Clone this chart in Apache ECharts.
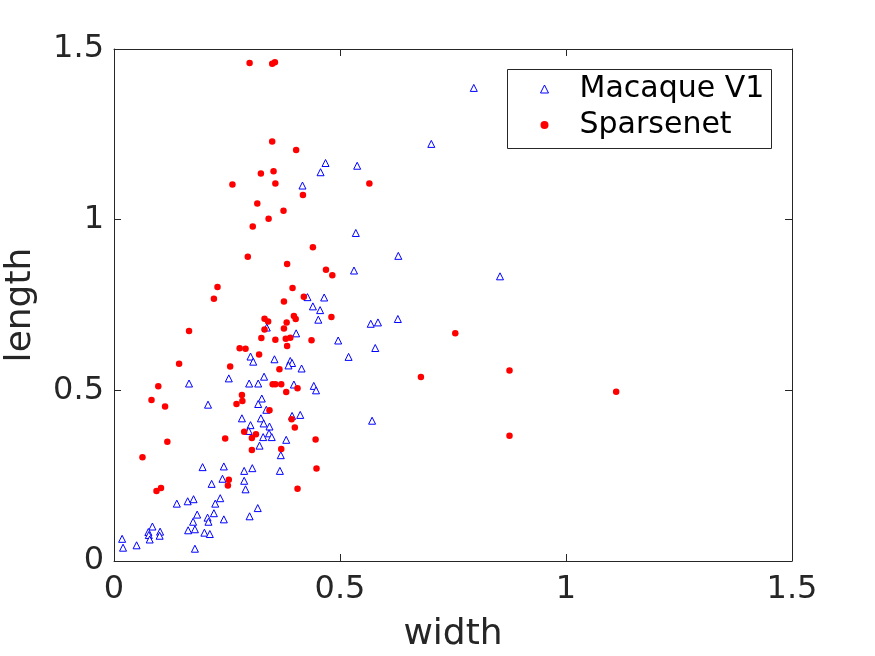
<!DOCTYPE html>
<html>
<head>
<meta charset="utf-8">
<script src="https://cdn.jsdelivr.net/npm/echarts@6/dist/echarts.min.js"></script>
<style>
  html, body { margin: 0; padding: 0; background: #fff; }
  #chart { width: 875px; height: 656px; }
</style>
</head>
<body>
<div id="chart"></div>
<script>
// [width, length] pairs
const macaqueV1 = [
  [0.468,1.166],[0.457,1.139],[0.538,1.158],[0.417,1.100],[0.796,1.386],[0.702,1.222],
  [0.535,0.961],[0.531,0.851],[0.428,0.773],[0.465,0.772],[0.440,0.746],[0.456,0.735],
  [0.452,0.707],[0.338,0.684],[0.403,0.667],[0.496,0.646],[0.519,0.598],[0.302,0.599],
  [0.308,0.584],[0.355,0.591],[0.390,0.586],[0.394,0.580],[0.386,0.573],[0.415,0.564],
  [0.332,0.540],[0.254,0.535],[0.166,0.520],[0.299,0.520],[0.319,0.520],[0.398,0.517],
  [0.442,0.513],[0.629,0.894],[0.854,0.834],[0.628,0.709],[0.568,0.695],[0.584,0.699],
  [0.578,0.624],[0.571,0.411],[0.447,0.500],[0.208,0.458],[0.327,0.476],[0.319,0.460],
  [0.337,0.443],[0.283,0.418],[0.325,0.418],[0.302,0.398],[0.331,0.403],[0.344,0.394],
  [0.394,0.425],[0.412,0.428],[0.298,0.381],[0.343,0.374],[0.330,0.363],[0.349,0.363],
  [0.381,0.355],[0.322,0.338],[0.369,0.310],[0.196,0.275],[0.243,0.277],[0.288,0.264],
  [0.306,0.272],[0.367,0.264],[0.240,0.241],[0.288,0.235],[0.216,0.226],[0.291,0.210],
  [0.139,0.168],[0.163,0.175],[0.176,0.181],[0.235,0.184],[0.224,0.168],[0.318,0.155],
  [0.184,0.136],[0.221,0.140],[0.207,0.127],[0.209,0.115],[0.175,0.115],[0.300,0.131],
  [0.243,0.122],[0.164,0.090],[0.179,0.093],[0.200,0.083],[0.212,0.079],[0.085,0.101],
  [0.076,0.085],[0.077,0.076],[0.079,0.063],[0.102,0.086],[0.101,0.074],[0.018,0.065],
  [0.020,0.039],[0.050,0.046],[0.179,0.036]
];

const sparsenet = [
  [0.300,1.459],[0.350,1.457],[0.356,1.461],[0.350,1.229],[0.403,1.204],[0.325,1.135],
  [0.353,1.142],[0.262,1.103],[0.357,1.106],[0.418,1.072],[0.317,1.047],[0.375,1.026],
  [0.342,1.003],[0.307,0.980],[0.440,0.919],[0.296,0.891],[0.383,0.870],[0.469,0.853],
  [0.483,0.837],[0.395,0.800],[0.229,0.803],[0.221,0.768],[0.376,0.760],[0.420,0.774],
  [0.398,0.718],[0.402,0.709],[0.481,0.715],[0.333,0.710],[0.341,0.702],[0.382,0.699],
  [0.166,0.674],[0.333,0.678],[0.376,0.681],[0.326,0.653],[0.357,0.648],[0.380,0.651],
  [0.390,0.654],[0.437,0.647],[0.383,0.630],[0.278,0.623],[0.291,0.622],[0.321,0.605],
  [0.144,0.578],[0.257,0.570],[0.366,0.562],[0.098,0.512],[0.351,0.518],[0.357,0.518],
  [0.370,0.518],[0.406,0.506],[0.381,0.495],[0.083,0.472],[0.113,0.453],[0.283,0.486],
  [0.284,0.469],[0.271,0.460],[0.344,0.442],[0.393,0.415],[0.400,0.391],[0.288,0.379],
  [0.314,0.371],[0.305,0.360],[0.246,0.359],[0.446,0.356],[0.118,0.349],[0.305,0.325],
  [0.370,0.328],[0.063,0.304],[0.448,0.271],[0.254,0.238],[0.252,0.221],[0.094,0.205],
  [0.104,0.214],[0.406,0.212],[0.755,0.667],[0.679,0.539],[0.875,0.558],[0.565,1.106],
  [0.875,0.367],[1.111,0.496]
];

const seriesNames = ['Macaque V1', 'Sparsenet'];
const axisMin = 0;
const axisMax = 1.5;
const tickStep = 0.5;

const font = 'DejaVu Sans';
const ink = '#262626';

function frameAxis(pos, showLabel){
    return {
        type: 'value',
        position: pos,
        min: axisMin,
        max: axisMax,
        interval: tickStep,
        axisLine: {show: true, onZero: false, lineStyle: {color: ink, width: 1}},
        axisTick: {show: true, inside: true, length: 7, lineStyle: {color: ink}},
        axisLabel: {show: showLabel, fontFamily: font, fontSize: 32, color: ink},
        splitLine: {show: false}
    };
}

const chart = echarts.init(document.getElementById('chart'));

const xBottom = frameAxis('bottom', true);
xBottom.axisLabel.margin = 13;
xBottom.name = 'width';
xBottom.nameLocation = 'middle';
xBottom.nameGap = 56;
xBottom.nameTextStyle = {fontFamily: font, fontSize: 36, color: ink};

const yLeft = frameAxis('left', true);
yLeft.axisLabel.margin = 10;
yLeft.name = 'length';
yLeft.nameLocation = 'middle';
yLeft.nameGap = 75;
yLeft.nameTextStyle = {fontFamily: font, fontSize: 36, color: ink};

const option = {
    backgroundColor: '#fff',
    animation: false,
    grid: {left: 114, top: 49, right: 83, bottom: 95, containLabel: false, outerBoundsMode: 'none'},
    xAxis: [xBottom, frameAxis('top', false)],
    yAxis: [yLeft, frameAxis('right', false)],
    graphic: [
        {
            type: 'rect',
            shape: {x: 507.5, y: 69.5, width: 264, height: 79},
            style: {fill: '#fff', stroke: ink, lineWidth: 1},
            z: 3
        }
    ],
    legend: {
        orient: 'vertical',
        left: 540,
        top: 71,
        padding: 0,
        itemWidth: 8,
        itemHeight: 8,
        itemGap: 0,
        selectedMode: false,
        z: 5,
        textStyle: {fontFamily: font, fontSize: 30, color: '#000', lineHeight: 36, padding: [0, 0, 0, 26]},
        data: [
            {name: seriesNames[0], icon: 'triangle', itemStyle: {color: '#fff', borderColor: '#0000ff', borderWidth: 1}},
            {name: seriesNames[1], icon: 'circle', itemStyle: {color: '#ff0000', borderWidth: 0}}
        ]
    },
    series: [
        {
            name: seriesNames[0],
            type: 'scatter',
            xAxisIndex: 0,
            yAxisIndex: 0,
            symbol: 'triangle',
            symbolSize: 7,
            itemStyle: {color: '#fff', borderColor: '#0000ff', borderWidth: 1, opacity: 1},
            data: macaqueV1
        },
        {
            name: seriesNames[1],
            type: 'scatter',
            xAxisIndex: 0,
            yAxisIndex: 0,
            symbol: 'circle',
            symbolSize: 6.5,
            itemStyle: {color: '#ff0000', opacity: 1},
            data: sparsenet
        }
    ]
};

chart.setOption(option);
</script>
</body>
</html>
